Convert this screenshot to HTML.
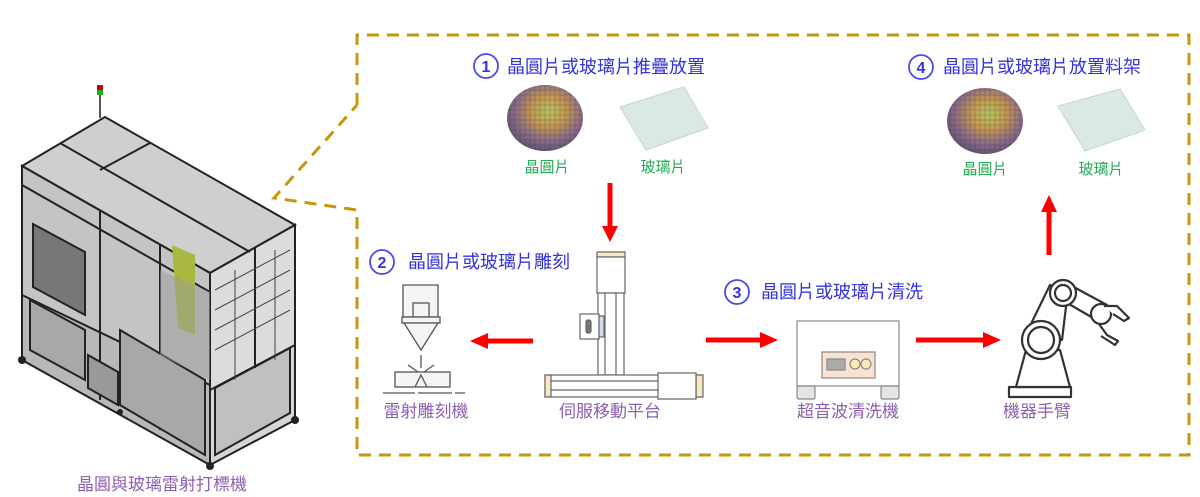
<!DOCTYPE html>
<html><head><meta charset="utf-8"><style>
html,body{margin:0;padding:0;background:#fff;width:1200px;height:497px;overflow:hidden}
svg text{font-family:"Liberation Sans","Noto Sans CJK TC",sans-serif}
</style></head><body>
<svg width="1200" height="497" viewBox="0 0 1200 497" xmlns="http://www.w3.org/2000/svg">
<defs>
<radialGradient id="wf" cx="55%" cy="40%" r="65%">
<stop offset="0" stop-color="#b8c860"/><stop offset="0.35" stop-color="#c89a50"/><stop offset="0.7" stop-color="#8a6a8a"/><stop offset="1" stop-color="#5a5068"/></radialGradient>
<pattern id="grid" width="5" height="5" patternUnits="userSpaceOnUse"><rect width="5" height="5" fill="none" stroke="#3a3040" stroke-opacity="0.35" stroke-width="0.8"/></pattern>
</defs>

<!-- dashed callout -->
<path d="M357,105 L357,35 L1189,35 L1189,455 L357,455 L357,210 L274,198 L357,105" fill="none" stroke="#c8960a" stroke-width="3" stroke-dasharray="12,8"/>

<!-- machine -->
<g stroke="#222" stroke-width="2">
<polygon points="22,166 105,117 295,225 210,273" fill="#cfcfcf"/>
<polygon points="22,166 210,273 210,465 22,360" fill="#b8b8b8"/>
<polygon points="210,273 295,225 295,420 210,465" fill="#d6d6d6"/>
<polygon points="22,166 210,273 210,385 22,295" fill="#c4c4c4"/>
<polygon points="210,273 295,225 295,345 210,390" fill="#dcdcdc"/>
<line x1="100" y1="210" x2="100" y2="400"/><line x1="160" y1="245" x2="160" y2="430"/>
<line x1="60" y1="143" x2="250" y2="252"/><line x1="150" y1="143" x2="100" y2="170"/>
<line x1="22" y1="185" x2="210" y2="292"/>
<polygon points="33,224 85,252 85,315 33,287" fill="#777"/>
<polygon points="30,300 85,330 85,380 30,350" fill="#a8a8a8"/>
<polygon points="120,330 205,380 205,455 120,405" fill="#a8a8a8"/>
<polygon points="88,355 118,372 118,405 88,388" fill="#999"/>
<polygon points="215,388 290,348 290,413 215,455" fill="#c0c0c0"/>
<line x1="255" y1="248" x2="255" y2="368"/>
</g>
<g fill="#222"><circle cx="22" cy="360" r="4"/><circle cx="210" cy="466" r="4"/><circle cx="295" cy="420" r="4"/><circle cx="120" cy="412" r="3"/></g>
<polygon points="172,245 195,255 195,335 178,328" fill="#a8b840"/>
<polygon points="160,270 210,292 210,380 160,355" fill="#9a9a9a" fill-opacity="0.5"/>
<line x1="100" y1="118" x2="100" y2="90" stroke="#555" stroke-width="2"/>
<rect x="97" y="85" width="6" height="5" fill="#c00"/><rect x="97" y="90" width="6" height="5" fill="#2a2"/>
<g stroke="#444" stroke-width="1" fill="none">
<path d="M215,290 L290,250 M215,310 L290,270 M215,330 L290,290 M215,350 L290,310 M235,270 L235,380 M275,250 L275,360"/>
</g>
<text x="162" y="490" font-size="17" fill="#8e5fb0" text-anchor="middle">晶圓與玻璃雷射打標機</text>

<!-- step 1 -->
<circle cx="486" cy="66" r="12" fill="none" stroke="#4a4aea" stroke-width="1.8"/>
<text x="486" y="72" font-size="16" font-weight="bold" fill="#3333dd" text-anchor="middle">1</text>
<text x="507" y="73" font-size="18" fill="#3333dd">晶圓片或玻璃片推疊放置</text>
<ellipse cx="545" cy="118" rx="38" ry="33" fill="url(#wf)"/>
<ellipse cx="545" cy="118" rx="38" ry="33" fill="url(#grid)"/>
<polygon points="620,107 684,87 708,128 646,150" fill="#dbe9e6" stroke="#c4d4d0"/>
<text x="547" y="172" font-size="15" fill="#22aa55" text-anchor="middle">晶圓片</text>
<text x="663" y="172" font-size="15" fill="#22aa55" text-anchor="middle">玻璃片</text>

<!-- step 4 -->
<circle cx="921" cy="67" r="12" fill="none" stroke="#4a4aea" stroke-width="1.8"/>
<text x="921" y="73" font-size="16" font-weight="bold" fill="#3333dd" text-anchor="middle">4</text>
<text x="943" y="73" font-size="18" fill="#3333dd">晶圓片或玻璃片放置料架</text>
<ellipse cx="985" cy="121" rx="38" ry="33" fill="url(#wf)"/>
<ellipse cx="985" cy="121" rx="38" ry="33" fill="url(#grid)"/>
<polygon points="1058,106 1120,89 1145,130 1085,151" fill="#dbe9e6" stroke="#c4d4d0"/>
<text x="985" y="174" font-size="15" fill="#22aa55" text-anchor="middle">晶圓片</text>
<text x="1101" y="174" font-size="15" fill="#22aa55" text-anchor="middle">玻璃片</text>

<!-- arrows -->
<g stroke="#f00" stroke-width="5" fill="#f00">
<line x1="610" y1="183" x2="610" y2="228"/><polygon points="602,226 618,226 610,242" stroke="none"/>
<line x1="533" y1="341" x2="485" y2="341"/><polygon points="488,333 488,349 470,341" stroke="none"/>
<line x1="706" y1="340" x2="760" y2="340"/><polygon points="760,332 760,348 778,340" stroke="none"/>
<line x1="916" y1="340" x2="983" y2="340"/><polygon points="983,332 983,348 1001,340" stroke="none"/>
<line x1="1049" y1="255" x2="1049" y2="210"/><polygon points="1041,212 1057,212 1049,195" stroke="none"/>
</g>

<!-- step 2 -->
<circle cx="382" cy="262" r="12" fill="none" stroke="#4a4aea" stroke-width="1.8"/>
<text x="382" y="268" font-size="16" font-weight="bold" fill="#3333dd" text-anchor="middle">2</text>
<text x="408" y="268" font-size="18" fill="#3333dd">晶圓片或玻璃片雕刻</text>
<g stroke="#555" stroke-width="1.3" fill="#f4f4f4">
<path d="M403,285 L438,285 L438,317 L403,317 Z"/>
<rect x="413" y="303" width="16" height="14"/>
<rect x="402" y="317" width="38" height="6"/>
<path d="M404,323 L438,323 L421,350 Z"/>
<rect x="395" y="372" width="55" height="15"/>
<path d="M415,387 L421,375 L427,387" fill="none"/>
<path d="M408,365 L418,372 M434,365 L424,372 M421,355 L421,368" fill="none"/>
<path d="M383,393 L415,393 M418,393 L452,393 M455,393 L465,393" fill="none"/>
</g>
<text x="426" y="417" font-size="17" fill="#8e5fb0" text-anchor="middle">雷射雕刻機</text>

<!-- gantry -->
<g stroke="#666" stroke-width="1.2">
<rect x="597" y="252" width="28" height="5" fill="#fbe8c0"/>
<rect x="597" y="257" width="28" height="36" fill="#fff"/>
<rect x="598" y="293" width="26" height="82" fill="#fff"/>
<line x1="605" y1="293" x2="605" y2="375"/><line x1="616" y1="293" x2="616" y2="375"/>
<rect x="580" y="314" width="19" height="25" fill="#fff"/>
<rect x="599" y="316" width="5" height="21" fill="#d4dcf0"/>
<rect x="586" y="320" width="5" height="13" rx="2" fill="#777"/>
<rect x="545" y="375" width="157" height="22" fill="#fff"/>
<rect x="545" y="375" width="6" height="22" fill="#fbe8c0"/>
<rect x="696" y="375" width="7" height="22" fill="#fbe8c0"/>
<rect x="658" y="373" width="38" height="26" fill="#fff"/>
<line x1="551" y1="381" x2="658" y2="381"/><line x1="551" y1="390" x2="658" y2="390"/>
</g>
<text x="610" y="417" font-size="17" fill="#8e5fb0" text-anchor="middle">伺服移動平台</text>

<!-- step 3 -->
<circle cx="737" cy="292" r="12" fill="none" stroke="#4a4aea" stroke-width="1.8"/>
<text x="737" y="298" font-size="16" font-weight="bold" fill="#3333dd" text-anchor="middle">3</text>
<text x="761" y="298" font-size="18" fill="#3333dd">晶圓片或玻璃片清洗</text>
<g stroke="#888" stroke-width="1.2">
<rect x="797" y="321" width="102" height="65" fill="#fff"/>
<rect x="822" y="352" width="53" height="26" fill="#f9e2d2"/>
<rect x="827" y="359" width="18" height="11" fill="#aaa"/>
<circle cx="855" cy="364" r="5" fill="#fbeab8"/><circle cx="866" cy="364" r="5" fill="#fbeab8"/>
<rect x="797" y="386" width="18" height="13" rx="2" fill="#e4e4e4"/>
<rect x="881" y="386" width="18" height="13" rx="2" fill="#e4e4e4"/>
</g>
<text x="848" y="417" font-size="17" fill="#8e5fb0" text-anchor="middle">超音波清洗機</text>

<!-- robot -->
<g stroke="#333" stroke-width="2.2" fill="#fff" stroke-linejoin="round">
<rect x="1009" y="387" width="62" height="10"/>
<path d="M1016,387 L1026,350 L1060,350 L1070,387 Z"/>
<path d="M1028,330 L1050,285 L1068,290 L1062,340 Z"/>
<path d="M1070,285 L1107,305 L1100,322 L1062,300 Z"/>
<circle cx="1041" cy="340" r="19"/><circle cx="1041" cy="340" r="13"/>
<circle cx="1063" cy="293" r="13"/><circle cx="1063" cy="293" r="8"/>
<circle cx="1101" cy="314" r="10"/>
<path d="M1104,306 L1117,306 L1129,318 L1124,321 L1113,314"/>
<path d="M1099,324 L1107,335 L1118,341 L1115,345 L1101,336"/>
</g>
<text x="1037" y="417" font-size="17" fill="#8e5fb0" text-anchor="middle">機器手臂</text>
</svg>
</body></html>
